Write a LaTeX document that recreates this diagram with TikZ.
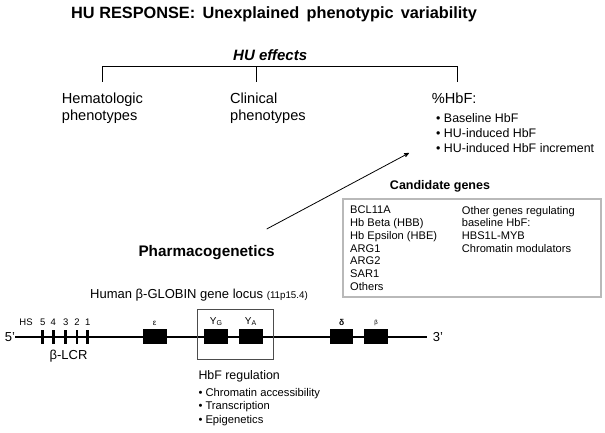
\documentclass[tikz,border=0pt]{standalone}
\usepackage{fontspec}
\setmainfont{Liberation Sans}
\usepackage{tikz}
\usetikzlibrary{shapes,arrows}
\usetikzlibrary{positioning}
\tikzstyle{txt} = [inner sep=0pt, align=left, anchor=west]
\tikzstyle{gene} = [rectangle, fill=black, inner sep=0pt,
    minimum width=24pt, minimum height=14.7pt]
\tikzstyle{hs} = [rectangle, fill=black, inner sep=0pt,
    minimum width=2.7pt, minimum height=13.3pt]
\tikzstyle{glabel} = [inner sep=0pt]
\tikzstyle{line} = [draw, -stealth', thick]

\begin{document}
\begin{tikzpicture}[x=1pt, y=-1pt, node distance=4pt]
    \useasboundingbox (0,0) rectangle (605,433);
    % Title and effects
    \node [txt, font=\bfseries\fontsize{16.3}{19}\selectfont] (title) at (71,14.2)
        {HU RESPONSE:\ \,Unexplained\ \,phenotypic\ \,variability};
    \node [txt, font=\bfseries\itshape\fontsize{15}{18}\selectfont] (effects) at (233,55) {HU effects};

    \coordinate (brl) at (102.7,66.7);
    \coordinate (brm) at (256.7,66.7);
    \coordinate (brr) at (457.5,66.7);
    \draw [line width=1pt] (brl) ++(0,15) -- (brl) -- (brr) -- ++(0,15);
    \draw [line width=1pt] (brm) -- ++(0,15);

    \node [txt, anchor=north west, font=\fontsize{14.6}{17}\selectfont] (hema) at (61.7,92.8) {Hematologic\\phenotypes};
    \node [txt, anchor=north west, font=\fontsize{14.6}{17}\selectfont] (clin) at (230,92.8) {Clinical\\phenotypes};
    \node [txt, anchor=north west, font=\fontsize{14.6}{17}\selectfont] (hbf) at (431.7,92.8) {\%HbF:};
    \node [txt, anchor=north west, font=\fontsize{12.4}{15}\selectfont] (hbfitems) at (436,113)
        {• Baseline HbF\\• HU-induced HbF\\• HU-induced HbF increment};

    % Pharmacogenetics and candidate genes
    \node [txt, font=\bfseries\fontsize{15.3}{18}\selectfont] (pharma) at (138.3,253) {Pharmacogenetics};
    \coordinate (atail) at (266.7,229);
    \coordinate (ahead) at (409,153);
    \path [line] (atail) -- (ahead);

    \node [font=\bfseries\fontsize{12.5}{15}\selectfont, inner sep=0pt] (cand) at (440,186.2) {Candidate genes};
    \node [draw=gray!55, line width=1.8pt, anchor=north west, minimum width=258pt, minimum height=98pt] (candbox) at (341.7,198.3) {};
    \node [txt, anchor=north west, font=\fontsize{11.1}{12.8}\selectfont] (candl) at (350,205.8)
        {BCL11A\\Hb Beta (HBB)\\Hb Epsilon (HBE)\\ARG1\\ARG2\\SAR1\\Others};
    \node [txt, anchor=north west, font=\fontsize{11.1}{12.8}\selectfont] (candr) at (461.7,205.8)
        {Other genes regulating\\baseline HbF:\\HBS1L-MYB\\Chromatin modulators};

    % Gene locus
    \node [txt, font=\fontsize{13}{15}\selectfont] (locus) at (90,295.3)
        {Human β-GLOBIN gene locus {\fontsize{9.75}{11}\selectfont (11p15.4)}};
    \node [txt, font=\fontsize{13}{15}\selectfont] (five) at (4.6,337) {5'};
    \node [txt, font=\fontsize{13}{15}\selectfont, inner xsep=6pt] (three) at (426.7,337) {3'};
    \draw [line width=1.4pt] (five.east) -- (three.west);

    \node [hs] (hs5) at (42.7,337) {};
    \node [hs] (hs4) at (53.3,337) {};
    \node [hs] (hs3) at (65.7,337) {};
    \node [hs] (hs2) at (77,337) {};
    \node [hs] (hs1) at (87.7,337) {};
    \node [glabel, font=\fontsize{9.5}{11}\selectfont, above=4pt of hs5] (n5) {5};
    \node [glabel, font=\fontsize{9.5}{11}\selectfont, above=4pt of hs4] (n4) {4};
    \node [glabel, font=\fontsize{9.5}{11}\selectfont, above=4pt of hs3] (n3) {3};
    \node [glabel, font=\fontsize{9.5}{11}\selectfont, above=4pt of hs2] (n2) {2};
    \node [glabel, font=\fontsize{9.5}{11}\selectfont, above=4pt of hs1] (n1) {1};
    \node [glabel, font=\fontsize{9.5}{11}\selectfont] (hslbl) at (26,322.7) {HS};
    \node [glabel, font=\fontsize{13}{15}\selectfont] (lcr) at (68.5,356) {β-LCR};

    \node [gene] (geps) at (154.7,336.7) {};
    \node [gene] (gg) at (216.3,336.7) {};
    \node [gene] (ga) at (250.8,336.7) {};
    \node [gene, minimum width=23.3pt] (gd) at (341.7,336.7) {};
    \node [gene, minimum width=23.3pt] (gb) at (376,336.7) {};
    \node [glabel, font=\fontsize{8}{9}\selectfont, above=3pt of geps] (leps) {ε};
    \node [glabel, font=\fontsize{10}{11}\selectfont, above=3pt of gg] (lgg) {Y\textsubscript{G}};
    \node [glabel, font=\fontsize{10}{11}\selectfont, above=3pt of ga] (lga) {Y\textsubscript{A}};
    \node [glabel, font=\bfseries\fontsize{8.5}{9}\selectfont, above=3pt of gd] (ld) {δ};
    \node [glabel, font=\fontsize{6}{7}\selectfont, above=3pt of gb] (lb) {β};

    \node [draw=black!70, line width=0.7pt, minimum width=76pt, minimum height=50pt, inner sep=0pt] (hbfbox) at (235.3,334.3) {};

    \node [txt, font=\fontsize{12.4}{15}\selectfont] (hbfreg) at (198.3,376) {HbF regulation};
    \node [txt, font=\fontsize{11.2}{13.5}\selectfont, below=6pt of hbfreg.south west, anchor=north west] (regitems)
        {• Chromatin accessibility\\• Transcription\\• Epigenetics};
\end{tikzpicture}
\end{document}
